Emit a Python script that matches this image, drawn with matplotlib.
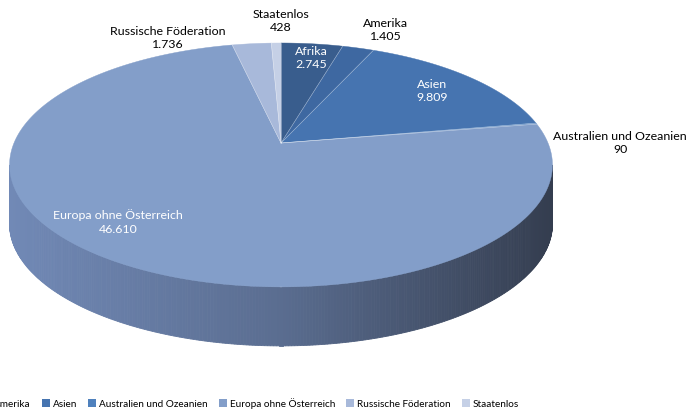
import numpy as np
import matplotlib
matplotlib.use("Agg")
import matplotlib.pyplot as plt
from matplotlib.patches import Polygon, Patch
from matplotlib.colors import to_rgb

# --------------------------
# Data
# --------------------------
categories = ["Afrika", "Amerika", "Asien", "Australien und Ozeanien",
              "Europa ohne Österreich", "Russische Föderation", "Staatenlos"]
values = [2745, 1405, 9809, 90, 46610, 1736, 428]
value_labels = ["2.745", "1.405", "9.809", "90", "46.610", "1.736", "428"]

# --------------------------
# Style
# --------------------------
colors = ["#395D8D", "#3E68A1", "#4674B0", "#4F81BD",
          "#839EC9", "#A8B9DA", "#C5D0E6"]
label_colors = ["white", "black", "white", "black", "white", "black", "black"]
# label centres in pixels (x, y from top)
label_pos = [(311, 58), (386, 30), (432, 91), (620, 143),
             (118, 222), (168, 38), (281, 21)]

plt.rcParams['font.family'] = ['Lato', 'DejaVu Sans']

# 3D pie geometry (pixels)
cx, cy = 281, 143      # apex of the pie
A, B = 267, 118        # semi axes before perspective
k = 0.18               # perspective factor
H = 59                 # thickness


def proj(theta, r=1.0, depth=0.0):
    """theta in degrees, clockwise from 12 o'clock"""
    t = np.radians(theta)
    u = r * np.sin(t)
    v = r * np.cos(t)
    w = 1 + k * v
    x = cx + A * u / w
    y = cy - B * v / w + H * depth
    return x, y


fig = plt.figure(figsize=(6.9, 4.09), dpi=100)
ax = fig.add_axes([0, 0, 1, 1])
ax.set_xlim(0, 690)
ax.set_ylim(409, 0)
ax.axis('off')

total = float(sum(values))
angles = np.cumsum([0] + [v / total * 360 for v in values])

# --------------------------
# Side wall (front, gradient)
# --------------------------
side_cols = [to_rgb("#7189B6"), to_rgb("#5A6D90"), to_rgb("#343D4F")]
th0 = 90 + np.degrees(np.arcsin(k))
th1 = 270 - np.degrees(np.arcsin(k))
ths = np.linspace(th0, th1, 300)
xl, _ = proj(th1)
xr, _ = proj(th0)
for a, b in zip(ths[:-1], ths[1:]):
    xa, ya = proj(a)
    xb, yb = proj(b)
    f = ((xa + xb) / 2 - xl) / (xr - xl)
    if f < 0.5:
        c = np.array(side_cols[0]) * (1 - f / 0.5) + np.array(side_cols[1]) * (f / 0.5)
    else:
        g = (f - 0.5) / 0.5
        c = np.array(side_cols[1]) * (1 - g) + np.array(side_cols[2]) * g
    quad = [(xa, ya), (xb, yb), (xb, yb + H), (xa, ya + H)]
    ax.add_patch(Polygon(quad, closed=True, facecolor=c, edgecolor=c,
                         linewidth=0.6, antialiased=True))

# --------------------------
# Top face wedges
# --------------------------
handles = []
for i, name in enumerate(categories):
    a0, a1 = angles[i], angles[i + 1]
    n = max(int((a1 - a0) * 2), 3)
    arc = [proj(t) for t in np.linspace(a0, a1, n)]
    pts = [(cx, cy)] + arc
    ax.add_patch(Polygon(pts, closed=True, facecolor=colors[i],
                         edgecolor=colors[i], linewidth=0.3))
    handles.append(Patch(facecolor=colors[i], label=name))

# thin light seams between slices
for a in angles[:-1]:
    x, y = proj(a)
    ax.plot([cx, x], [cy, y], color="white", lw=0.4, alpha=0.5)

# --------------------------
# Labels
# --------------------------
for i, name in enumerate(categories):
    x, y = label_pos[i]
    ax.text(x, y, f"{name}\n{value_labels[i]}", ha='center', va='center',
            fontsize=8.9, color=label_colors[i], linespacing=1.3)

# --------------------------
# Legend (cut off on the left as in the original)
# --------------------------
fig.legend(handles=handles, loc='center left', ncol=7,
           bbox_to_anchor=(-0.095, 0.014), frameon=False, fontsize=7.2,
           handlelength=0.8, handleheight=0.8, handletextpad=0.3,
           columnspacing=1.1, borderpad=0, borderaxespad=0)

fig.savefig("out.png", dpi=100)
